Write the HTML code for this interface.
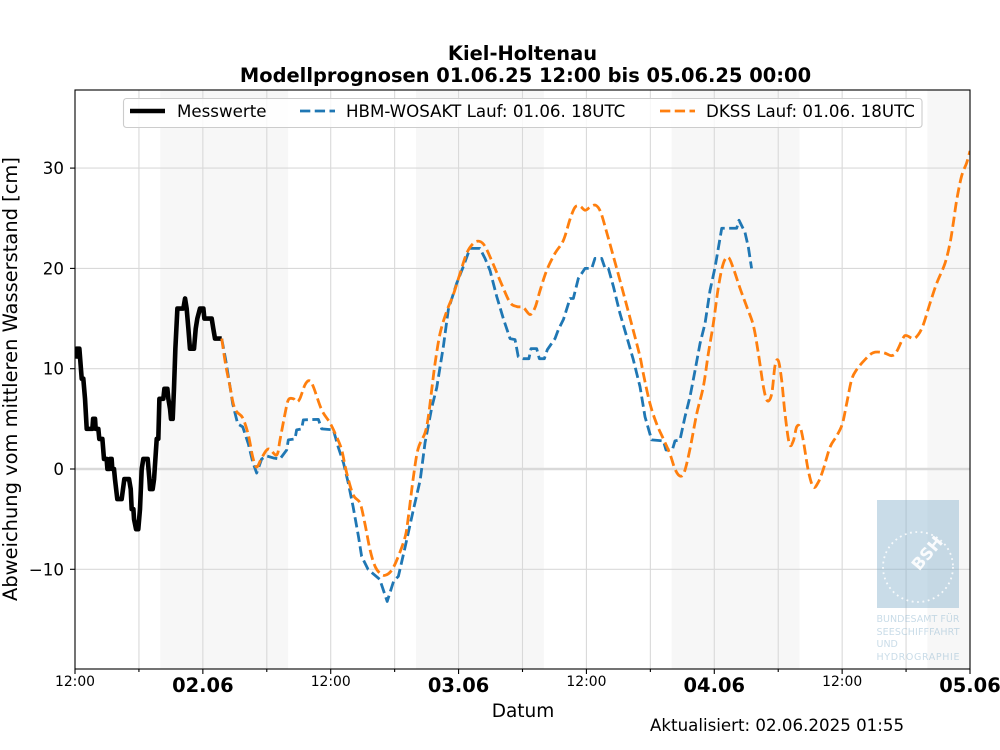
<!DOCTYPE html>
<html lang="de">
<head>
<meta charset="utf-8">
<title>Kiel-Holtenau Modellprognosen</title>
<style>
html,body{margin:0;padding:0;background:#fff;width:1000px;height:750px;overflow:hidden}
svg{display:block;font-family:"DejaVu Sans","Liberation Sans",sans-serif}
</style>
</head>
<body>
<svg id="chart" width="1000" height="750" viewBox="0 0 1000 750" xmlns="http://www.w3.org/2000/svg">
  <defs><clipPath id="plot-clip"><rect x="75" y="90" width="895" height="579"/></clipPath></defs>
  <text x="522.5" y="60" text-anchor="middle" font-size="19.44" font-weight="700" fill="#000">Kiel-Holtenau</text>
  <text x="525.5" y="82" text-anchor="middle" font-size="19.44" font-weight="700" fill="#000">Modellprognosen 01.06.25 12:00 bis 05.06.25 00:00</text>
  <g id="bands"></g>
  <g id="grid"></g>
  <g id="series" clip-path="url(#plot-clip)"></g>
  <g id="logo" opacity="1">
    <rect x="877" y="500" width="82" height="108" fill="#88b1cc" fill-opacity="0.45"/>
    <circle cx="918" cy="567" r="35" fill="none" stroke="#fff" stroke-opacity="0.85" stroke-width="1.8" stroke-dasharray="1.8 3.6"/>
    <text x="927" y="559" text-anchor="middle" font-size="16.5" font-weight="700" fill="#fff" fill-opacity="0.9" transform="rotate(-50 927 553)">BSH</text>
    <g font-size="9.5" fill="#88b1cc" fill-opacity="0.45">
      <text x="876.5" y="622" textLength="83" lengthAdjust="spacing">BUNDESAMT FÜR</text>
      <text x="876.5" y="635" textLength="83" lengthAdjust="spacing">SEESCHIFFFAHRT</text>
      <text x="876.5" y="647">UND</text>
      <text x="876.5" y="660" textLength="83" lengthAdjust="spacing">HYDROGRAPHIE</text>
    </g>
  </g>
  <rect x="75" y="90" width="895" height="579" fill="none" stroke="#000" stroke-width="1.1"/>
  <g id="axes"></g>
  <text x="523" y="717" text-anchor="middle" font-size="18.5" fill="#000">Datum</text>
  <text transform="translate(17 379) rotate(-90)" text-anchor="middle" font-size="19.44" fill="#000">Abweichung vom mittleren Wasserstand [cm]</text>
  <text x="650" y="731" font-size="16.67" fill="#000">Aktualisiert: 02.06.2025 01:55</text>
  <g>
    <rect x="123.5" y="98.5" width="798.5" height="29" rx="3" fill="#fff" fill-opacity="0.8" stroke="#ccc" stroke-width="1.1"/>
    <line x1="130" y1="111" x2="165" y2="111" stroke="#000" stroke-width="4.6"/>
    <text x="177" y="117" font-size="16.67">Messwerte</text>
    <line x1="300" y1="111" x2="335" y2="111" stroke="#1f77b4" stroke-width="2.8" stroke-dasharray="10.3 4.45"/>
    <text x="346" y="117" font-size="16.67">HBM-WOSAKT Lauf: 01.06. 18UTC</text>
    <line x1="660" y1="111" x2="695" y2="111" stroke="#ff7f0e" stroke-width="2.8" stroke-dasharray="10.3 4.45"/>
    <text x="706" y="117" font-size="16.67">DKSS Lauf: 01.06. 18UTC</text>
  </g>
</svg>
<script>
// Hours since 01.06. 12:00
const measuredHours = [0.09,0.16,0.41,0.63,0.78,0.94,1.1,1.63,1.7,1.88,1.94,2.19,2.28,2.57,2.72,2.97,3.04,3.22,3.29,3.44,3.5,3.66,3.75,3.97,4.38,4.63,5.07,5.23,5.32,5.48,5.54,5.73,5.94,6.1,6.26,6.41,6.82,6.98,7.04,7.29,7.42,7.67,7.82,7.92,8.29,8.39,8.67,8.76,8.92,9.01,9.17,9.29,9.42,9.61,10.17,10.33,10.48,10.64,10.79,11.17,11.33,11.48,11.73,12.05,12.14,12.83,12.98,13.14,13.77];
const measuredValues = [11,12,12,9,9,7,4,4,5,5,4,4,3,3,1,1,0,0,1,1,0,0,-1,-3,-3,-1,-1,-2,-4,-4,-5,-6,-6,-4,0,1,1,-1,-2,-2,-1,3,3,7,7,8,8,7,6,5,5,8,12,16,16,17,16,14,12,12,14,15,16,16,15,15,14,13,13];
const hbmHours = [13.77,14.14,14.55,14.8,15.27,15.74,16.27,16.68,17.05,17.52,17.99,18.62,19.24,19.87,20.02,20.65,20.8,21.27,21.43,22.84,23.15,24.25,24.7,25.2,25.65,26.1,26.6,26.9,27.5,28.6,29.3,29.9,30.35,31,31.75,32.4,32.85,33.5,33.95,34.57,35.04,35.82,36.45,37.07,38,38.48,38.95,39.58,40.2,40.83,41.3,41.6,42.08,42.6,42.8,43.33,43.58,44.05,44.33,45.05,45.37,45.84,46.46,46.77,47.24,47.87,48.5,48.8,49.43,49.75,50.06,50.53,51.15,51.78,52.4,53.03,53.5,54.12,55.22,55.47,56.06,56.31,56.78,57.25,57.72,58.19,58.66,59.13,59.6,60.07,60.7,62.1,62.32,62.88,63.2,63.5];
const hbmValues = [13,10.9,8.2,6.5,4.5,4.2,2.5,0.7,-0.4,1,1.3,1.1,1,1.9,2.9,3,3.9,4,4.9,4.95,4,3.9,2.2,0.6,-1.4,-3.75,-6.7,-8.7,-10,-11,-13.2,-11.2,-10.7,-7.7,-4.1,-1.1,2.6,6.2,8.1,12.2,15.9,18.5,20.2,22,22,21,19.8,17.2,15,13,12.9,11.2,11,11,12,12,11,11,11.9,13,13.9,14.9,17,17,19,20,20,21,21,20,20,18.2,15.5,13.2,10.9,8.2,5.2,2.9,2.8,1.9,1.9,2.8,2.9,5.2,7.2,9.8,12.5,14.5,17.8,20.1,24,24,24.8,23.6,22.1,20];
const dkssHours = [13.77,14.14,14.55,14.86,15.18,15.74,16.27,16.68,17.05,17.52,18.15,18.93,19.24,19.71,20.03,20.5,20.8,21.1,21.59,22,22.37,23.15,23.93,24.56,25.03,25.5,26.12,26.75,27.2,27.7,28.16,28.63,29.1,29.72,30.35,31,31.29,31.76,32.2,32.85,33.16,33.48,33.79,34.26,34.88,35.51,36.14,36.76,37.39,37.95,38.48,39.26,40.05,40.83,41.46,42.08,42.71,43.18,43.65,44.27,45.05,45.84,46.46,46.93,47.4,47.87,48.34,48.87,49.34,49.9,50.53,51.15,51.78,52.4,53.03,53.34,53.97,54.59,55.22,55.84,56.31,56.78,57.19,57.72,58.35,58.97,59.44,59.91,60.38,60.85,61.32,61.79,62.42,63.04,63.67,64.14,64.61,64.98,65.39,65.7,66.01,66.33,66.64,67.05,67.42,67.73,68.05,68.36,68.83,69.3,69.77,70.24,70.87,71.49,72.02,72.42,72.89,73.36,74.14,74.92,75.86,76.64,77.11,77.74,78.05,78.68,79.15,79.62,80.24,80.87,81.65,82.12,82.43,82.75,83.21,83.68,84];
const dkssValues = [13,10.4,8.2,6.5,5.7,5.1,3.4,1.2,0.2,1.1,2,1.4,2.9,5.5,6.9,7,6.7,7,8.4,8.8,8.2,5.9,4.6,3.2,1.9,-0.4,-2.6,-3.4,-5.4,-8.1,-9.7,-10.4,-10.6,-10.1,-8.7,-6.7,-4.75,-0.8,2,3.6,5.2,7.9,10.5,13.5,15.7,17.4,19.5,21.5,22.5,22.7,22.2,20.4,18.4,16.6,16.2,16.1,15.4,16.1,17.8,19.8,21.5,22.8,24.9,26.1,26.2,25.8,26.1,26.3,25.6,23.6,21.2,18.8,16.3,13.8,11.2,9.5,6.5,4.5,3,1.5,0,-0.7,-0.3,2,5.5,8.2,11.5,14.5,18.1,20.5,21.1,20,18,16.2,14.3,11.5,8.2,6.8,7.5,10.3,10.8,8.8,5.5,2.5,2.8,4.2,4.2,2.8,-0.2,-1.8,-1.3,0,2.2,3.3,4.5,6.5,8.9,9.9,10.9,11.6,11.6,11.3,11.7,13.1,13.3,13,13.4,14.4,16.5,18.5,20.5,22.5,24.5,26.8,29.2,30.5,31.7];
const bandStarts = [8,32,56,80];
const bandEnds = [20,44,68,84];
const yTicks = [-10,0,10,20,30];
const yTickLabels = ["\u221210","0","10","20","30"];
const xTickHours = [0,6,12,18,24,30,36,42,48,54,60,66,72,78,84];
const xTickLabels = ["12:00","","02.06","","12:00","","03.06","","12:00","","04.06","","12:00","","05.06"];

const NS = 'http://www.w3.org/2000/svg';
const xAt = h => 75 + h * 895 / 84;
const yAt = v => 469 - v * 10.03;
function mk(parent, tag, attrs, text) {
  const el = document.createElementNS(NS, tag);
  for (const k in attrs) el.setAttribute(k, attrs[k]);
  if (text !== undefined) el.textContent = text;
  parent.appendChild(el);
  return el;
}
const bands = document.getElementById('bands');
const grid = document.getElementById('grid');
const series = document.getElementById('series');
const axes = document.getElementById('axes');

bandStarts.forEach((s, i) => {
  const r = mk(bands, 'rect', {x: xAt(s), y: 90, width: xAt(bandEnds[i]) - xAt(s), height: 579, fill: '#f7f7f7'});
  
  
});
xTickHours.forEach((h, i) => {
  const x = xAt(h);
  if (h > 0 && h < 84) {
    const g = mk(grid, 'line', {x1: x, x2: x, y1: 90, y2: 669, stroke: '#d9d9d9', 'stroke-width': 1.1});
    
    
  }
  const major = xTickLabels[i] !== '';
  const t = mk(axes, 'line', {x1: x, x2: x, y1: 669, y2: major ? 674 : 672, stroke: '#000', 'stroke-width': 1.1});
  
  
  if (major) {
    const bold = xTickLabels[i].indexOf('.') > 0;
    const l = mk(axes, 'text', {x: x, y: bold ? 692 : 686, 'text-anchor': 'middle', 'font-size': bold ? 19.44 : 13.9, 'font-weight': bold ? 700 : 400, fill: '#000'}, xTickLabels[i]);
    
    
  }
});
yTicks.forEach((v, i) => {
  const y = yAt(v);
  const g = mk(grid, 'line', {x1: 75, x2: 970, y1: y, y2: y, stroke: '#d9d9d9', 'stroke-width': v === 0 ? 2.6 : 1.1});
  
  
  const t = mk(axes, 'line', {x1: 70, x2: 75, y1: y, y2: y, stroke: '#000', 'stroke-width': 1.1});
  
  
  const l = mk(axes, 'text', {x: 64, y: y + 6, 'text-anchor': 'end', 'font-size': 16.67, fill: '#000'}, yTickLabels[i]);
  
  
});
function poly(hs, vs) {
  return hs.map((h, i) => xAt(h).toFixed(2) + ',' + yAt(vs[i]).toFixed(2)).join(' ');
}
function smooth(hs, vs) {
  const p = hs.map((h, i) => [xAt(h), yAt(vs[i])]);
  let d = 'M' + p[0][0].toFixed(2) + ' ' + p[0][1].toFixed(2);
  for (let i = 0; i < p.length - 1; i++) {
    const a = p[Math.max(i - 1, 0)], b = p[i], c = p[i + 1], e = p[Math.min(i + 2, p.length - 1)];
    d += 'C' + (b[0] + (c[0] - a[0]) / 6).toFixed(2) + ' ' + (b[1] + (c[1] - a[1]) / 6).toFixed(2) + ' ' +
      (c[0] - (e[0] - b[0]) / 6).toFixed(2) + ' ' + (c[1] - (e[1] - b[1]) / 6).toFixed(2) + ' ' +
      c[0].toFixed(2) + ' ' + c[1].toFixed(2);
  }
  return d;
}
const meas = mk(series, 'polyline', {points: poly(measuredHours, measuredValues), fill: 'none', stroke: '#000', 'stroke-width': 4.6, 'stroke-linejoin': 'round'});


const hbm = mk(series, 'polyline', {points: poly(hbmHours, hbmValues), fill: 'none', stroke: '#1f77b4', 'stroke-width': 2.8, 'stroke-dasharray': '10.3 4.45', 'stroke-linejoin': 'round'});


const dkss = mk(series, 'path', {d: smooth(dkssHours, dkssValues), fill: 'none', stroke: '#ff7f0e', 'stroke-width': 2.8, 'stroke-dasharray': '10.3 4.45', 'stroke-linejoin': 'round'});


</script>
</body>
</html>
